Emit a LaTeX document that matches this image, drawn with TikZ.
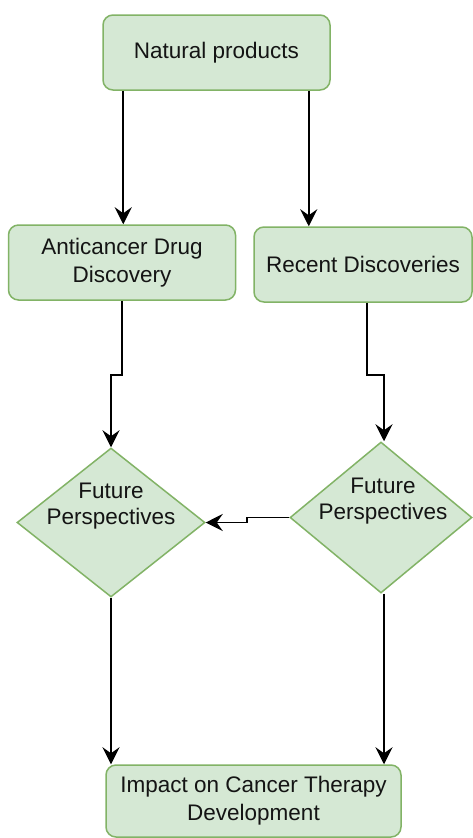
\documentclass[tikz,border=0pt]{standalone}
\usepackage{fontspec}
\setmainfont{Liberation Sans}
\usetikzlibrary{shapes.geometric,arrows.meta,calc}
\definecolor{gfill}{HTML}{D5E8D4}
\definecolor{gline}{HTML}{82B366}
\definecolor{txt}{HTML}{141414}
\begin{document}
\begin{tikzpicture}[x=1pt,y=-1pt,
  box/.style={draw=gline, fill=gfill, line width=1.5pt, rounded corners=10pt,
    align=center, font=\fontsize{22.5}{28}\selectfont, text=txt, inner sep=0pt},
  dia/.style={diamond, draw=gline, fill=gfill, line width=1.5pt, inner sep=0pt},
  lab/.style={align=center, font=\fontsize{22.5}{26}\selectfont, text=txt, inner sep=0pt},
  arr/.style={draw=black, line width=1.7pt, -{Stealth[length=17pt,width=17pt,inset=6pt]}}]
\useasboundingbox[fill=white] (0,0) rectangle (473,838);

\node[box, minimum width=227pt, minimum height=75pt] (top) at (216.5,52.5) {Natural products};
\node[box, minimum width=227pt, minimum height=75pt] (lb) at (122,262.5) {Anticancer Drug\\Discovery};
\node[box, minimum width=218pt, minimum height=75pt] (rb) at (363,264.5) {Recent Discoveries};
\node[dia, minimum width=188pt, minimum height=149pt] (d1) at (111,522.5) {};
\node[lab] (t1) at (111,506) {Future\\Perspectives};
\node[dia, minimum width=182pt, minimum height=151pt] (d2) at (381,517.5) {};
\node[lab] (t2) at (383,501) {Future\\Perspectives};
\node[box, minimum width=295pt, minimum height=72pt] (bot) at (253.5,801) {Impact on Cancer Therapy\\Development};

\coordinate (a1) at ($(top.south west)+(21,0)$);
\draw[arr] (a1) -- (a1 |- lb.north);
\coordinate (a2) at ($(top.south east)+(-22,0)$);
\draw[arr] (a2) -- (a2 |- rb.north);

\draw[arr] (lb.south) -- ++(0,74) -| (d1.north);
\coordinate (b2) at ($(rb.south)+(4,0)$);
\coordinate (c2) at ($(d2.north)+(3,0)$);
\draw[arr] (b2) -- ++(0,72) -| (c2);

\draw[arr] (d2.west) -- ++(-42,0) |- (d1.east);

\draw[arr] (d1.south) -- (d1.south |- bot.north);
\coordinate (e2) at ($(d2.south)+(3,0)$);
\draw[arr] (e2) -- (e2 |- bot.north);
\end{tikzpicture}
\end{document}
